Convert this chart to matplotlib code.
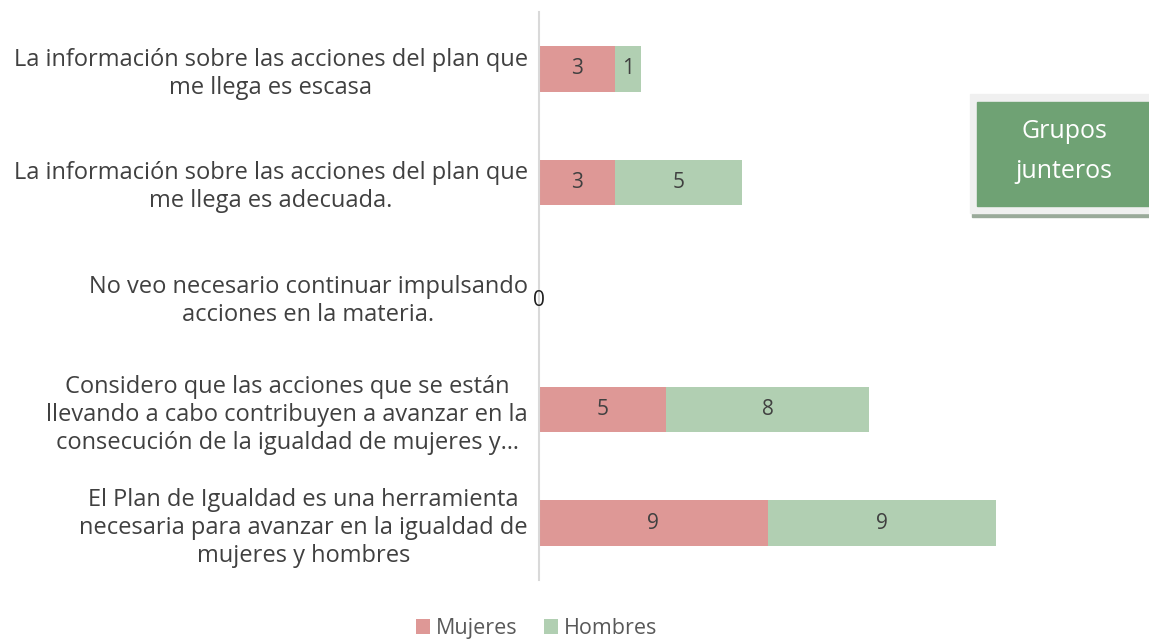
import numpy as np
import matplotlib
matplotlib.use("Agg")
import matplotlib.pyplot as plt
from matplotlib.patches import Rectangle

plt.rcParams["font.family"] = ["Open Sans", "DejaVu Sans"]

categories = [
    "La información sobre las acciones del plan que\nme llega es escasa",
    "La información sobre las acciones del plan que\nme llega es adecuada.",
    "No veo necesario continuar impulsando\nacciones en la materia.",
    "Considero que las acciones que se están\nllevando a cabo contribuyen a avanzar en la\nconsecución de la igualdad de mujeres y…",
    "El Plan de Igualdad es una herramienta\nnecesaria para avanzar en la igualdad de\nmujeres y hombres",
]
mujeres = [3, 3, 0, 5, 9]
hombres = [1, 5, 0, 8, 9]
series_names = ["Mujeres", "Hombres"]

C_MUJ = "#DE9896"
C_HOM = "#B1CFB2"
TXT = "#404040"

W, H = 1149, 643
fig = plt.figure(figsize=(W / 100, H / 100), dpi=100)
ax = fig.add_axes([539 / W, 63 / H, 508 / W, 568 / H])

y = np.arange(len(categories))
ax.barh(y, mujeres, height=0.4, color=C_MUJ, label=series_names[0])
ax.barh(y, hombres, left=mujeres, height=0.4, color=C_HOM, label=series_names[1])

for i, (m, h) in enumerate(zip(mujeres, hombres)):
    if m == 0 and h == 0:
        ax.text(0, i + 0.04, "0", ha="center", va="center", fontsize=15, color="#202020")
        continue
    ax.text(m / 2, i, str(m), ha="center", va="center", fontsize=15, color=TXT)
    ax.text(m + h / 2, i, str(h), ha="center", va="center", fontsize=15, color=TXT)

ax.set_ylim(len(categories) - 0.5, -0.5)
ax.set_xlim(0, 20)
ax.set_yticks(y)
ax.set_yticklabels(categories, fontsize=17, color=TXT, multialignment="center",
                   linespacing=1.22)
ax.tick_params(axis="y", length=0, pad=8)
ax.set_xticks([])
for s in ["top", "right", "bottom"]:
    ax.spines[s].set_visible(False)
ax.spines["left"].set_color("#D9D9D9")
ax.spines["left"].set_linewidth(1.5)

fig.legend(loc="lower center", bbox_to_anchor=(0.467, -0.024), ncol=2, frameon=False,
           fontsize=15.5, handlelength=0.65, handleheight=0.65, handletextpad=0.3,
           columnspacing=1.2, labelcolor="#595959")

# text box "Grupos junteros"
fig.patches.append(Rectangle((972 / W, 1 - 217 / H), 177 / W, 5 / H,
                             transform=fig.transFigure, color="#9AAA9A", zorder=1))
fig.patches.append(Rectangle((970 / W, 1 - 213 / H), 179 / W, 119 / H,
                             transform=fig.transFigure, color="#F0F0F0", zorder=2))
fig.patches.append(Rectangle((977 / W, 1 - 206 / H), 172 / W, 104 / H,
                             transform=fig.transFigure, color="#6FA274", zorder=3))
fig.text(1064 / W, 1 - 132 / H, "Grupos", ha="center", va="center", fontsize=18,
         color="white", zorder=4)
fig.text(1064 / W, 1 - 171 / H, "junteros", ha="center", va="center", fontsize=18,
         color="white", zorder=4)

fig.savefig("out.png", dpi=100)
